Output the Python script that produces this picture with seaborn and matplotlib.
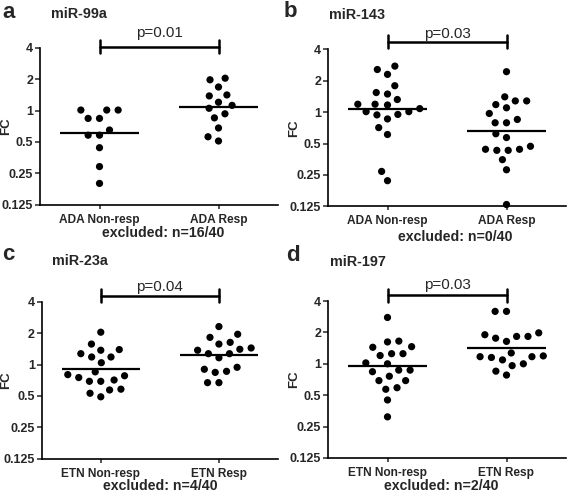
import numpy as np
import pandas as pd
import matplotlib
matplotlib.use("Agg")
import matplotlib.pyplot as plt
import matplotlib.transforms as mtransforms
from matplotlib.ticker import FixedLocator, FixedFormatter, NullLocator
import seaborn as sns

sns.set_theme(style="ticks")
plt.rcParams['font.family'] = ['Liberation Sans', 'DejaVu Sans']

# ---------------- data ----------------
panel_letters = ["a", "b", "c", "d"]
mirnas = ["miR-99a", "miR-143", "miR-23a", "miR-197"]
groups_ada = ["ADA Non-resp", "ADA Resp"]
groups_etn = ["ETN Non-resp", "ETN Resp"]
pvalues = ["p=0.01", "p=0.03", "p=0.04", "p=0.03"]
excluded = ["excluded: n=16/40", "excluded: n=0/40", "excluded: n=4/40", "excluded: n=2/40"]
yticks = [0.125, 0.25, 0.5, 1, 2, 4]
ytick_labels = ["0.125", "0.25", "0.5", "1", "2", "4"]

a_non = [1.01, 1.01, 1.01, 0.84, 0.84, 0.65, 0.58, 0.58, 0.44, 0.29, 0.20]
a_resp = [2.04, 1.97, 1.68, 1.41, 1.38, 1.20, 1.12, 1.05, 0.93, 0.85, 0.68, 0.56, 0.51]
b_non = [2.76, 2.56, 2.30, 1.79, 1.54, 1.49, 1.32, 1.19, 1.17, 1.19, 1.08, 1.01, 1.01,
         0.95, 0.94, 0.86, 0.71, 0.61, 0.27, 0.22]
b_resp = [2.44, 1.40, 1.28, 1.28, 1.18, 1.10, 0.97, 0.85, 0.79, 0.79, 0.62, 0.57, 0.47,
          0.44, 0.44, 0.43, 0.43, 0.35, 0.28, 0.13]
c_non = [2.04, 1.57, 1.39, 1.37, 1.27, 1.18, 1.18, 1.04, 0.85, 0.80, 0.78, 0.75, 0.71,
         0.69, 0.69, 0.58, 0.57, 0.53, 0.49]
c_resp = [2.31, 1.95, 1.82, 1.63, 1.57, 1.44, 1.40, 1.37, 1.27, 1.27, 1.16, 0.94, 0.90,
          0.86, 0.84, 0.67, 0.67]
d_non = [2.78, 1.65, 1.62, 1.46, 1.44, 1.25, 1.25, 1.20, 1.02, 1.00, 0.87, 0.87, 0.84,
         0.76, 0.69, 0.69, 0.59, 0.57, 0.45, 0.31]
d_resp = [3.18, 3.18, 1.98, 1.90, 1.83, 1.83, 1.76, 1.64, 1.27, 1.19, 1.17, 1.17, 1.15,
          1.09, 1.00, 0.96, 0.85, 0.78]

panel_data = [(a_non, a_resp), (b_non, b_resp), (c_non, c_resp), (d_non, d_resp)]
panel_groups = [groups_ada, groups_ada, groups_etn, groups_etn]

# ---------------- layout (pixels) ----------------
W, H = 567, 495
fig = plt.figure(figsize=(W / 100, H / 100), dpi=100)
fig.patch.set_facecolor("white")

# left, right, top, bottom in pixels
boxes = [(40, 278, 47.7, 204.7), (328, 566, 49.3, 206.3),
         (41.7, 278, 301.7, 458.7), (328, 566, 301, 458)]
label_x = [12.5, 300.5, 12.5, 300.5]
letter_pos = [(2, 18), (284, 17), (2, 260), (286, 261)]
title_pos = [(51, 18.5), (329, 19), (52, 265), (330, 266)]
excl_pos = [(163, 237), (455, 241), (160, 490), (441, 490)]
bar_off = [1, 7.6, 6, 6]      # px above axes top
text_gap = [10, 4, 4.7, 5.7]  # px between bar and text baseline

for i in range(4):
    l, r, t, b = boxes[i]
    ax = fig.add_axes([l / W, 1 - b / H, (r - l) / W, (b - t) / H])
    non, resp = panel_data[i]
    g = panel_groups[i]
    df = pd.DataFrame({"group": [g[0]] * len(non) + [g[1]] * len(resp),
                       "FC": non + resp})
    ax.set_yscale("log", base=2)
    sns.swarmplot(data=df, x="group", y="FC", order=g, ax=ax, color="black",
                  size=5.2, linewidth=2.6, edgecolor="none")
    for coll in ax.collections:
        coll.set_clip_on(False)
    # geometric mean lines
    for k, vals in enumerate([non, resp]):
        gm = float(np.exp(np.mean(np.log(vals))))
        ax.hlines(gm, k - 0.33, k + 0.33, color="black", lw=1.6, zorder=3)
    ax.set_xlim(-0.5, 1.5)
    ax.set_ylim(0.125, 4)
    ax.yaxis.set_major_locator(FixedLocator(yticks))
    ax.yaxis.set_major_formatter(FixedFormatter(ytick_labels))
    ax.yaxis.set_minor_locator(NullLocator())
    for lab in ax.get_yticklabels():
        lab.set_fontweight("bold")
        lab.set_fontsize(9)
    for lab in ax.get_xticklabels():
        lab.set_fontweight("bold")
        lab.set_fontsize(8.6)
    ax.tick_params(axis="y", length=3.5, width=1.1, pad=1.5)
    ax.tick_params(axis="x", length=3, width=1.1, pad=3.5)
    for s in ["top", "right"]:
        ax.spines[s].set_visible(False)
    for s in ["left", "bottom"]:
        ax.spines[s].set_linewidth(1.2)
        ax.spines[s].set_color("black")
    ax.set_xlabel("")
    ax.set_ylabel("FC", fontsize=9.5, fontweight="bold")
    ax.yaxis.set_label_coords((label_x[i] - l) / (r - l), 0.5)
    ax.set_facecolor("white")

    # significance bar
    hpx = b - t
    trans = mtransforms.blended_transform_factory(ax.transData, ax.transAxes)
    yb = 1 + bar_off[i] / hpx
    ax.plot([0, 1], [yb, yb], color="black", lw=1.8, transform=trans, clip_on=False)
    for xx in (0, 1):
        ax.plot([xx, xx], [yb - 6.5 / hpx, yb + 6.5 / hpx], color="black", lw=1.8,
                transform=trans, clip_on=False)
    ax.text(0.5, yb + text_gap[i] / hpx, pvalues[i], transform=trans, ha="center",
            va="baseline", fontsize=11)

    # texts
    fig.text(letter_pos[i][0] / W, 1 - letter_pos[i][1] / H, panel_letters[i],
             fontsize=16, fontweight="bold", ha="left", va="baseline")
    fig.text(title_pos[i][0] / W, 1 - title_pos[i][1] / H, mirnas[i],
             fontsize=10.4, fontweight="bold", ha="left", va="baseline")
    fig.text(excl_pos[i][0] / W, 1 - excl_pos[i][1] / H, excluded[i],
             fontsize=10.2, fontweight="bold", ha="center", va="baseline")

fig.savefig("out.png", dpi=100, facecolor="white")
